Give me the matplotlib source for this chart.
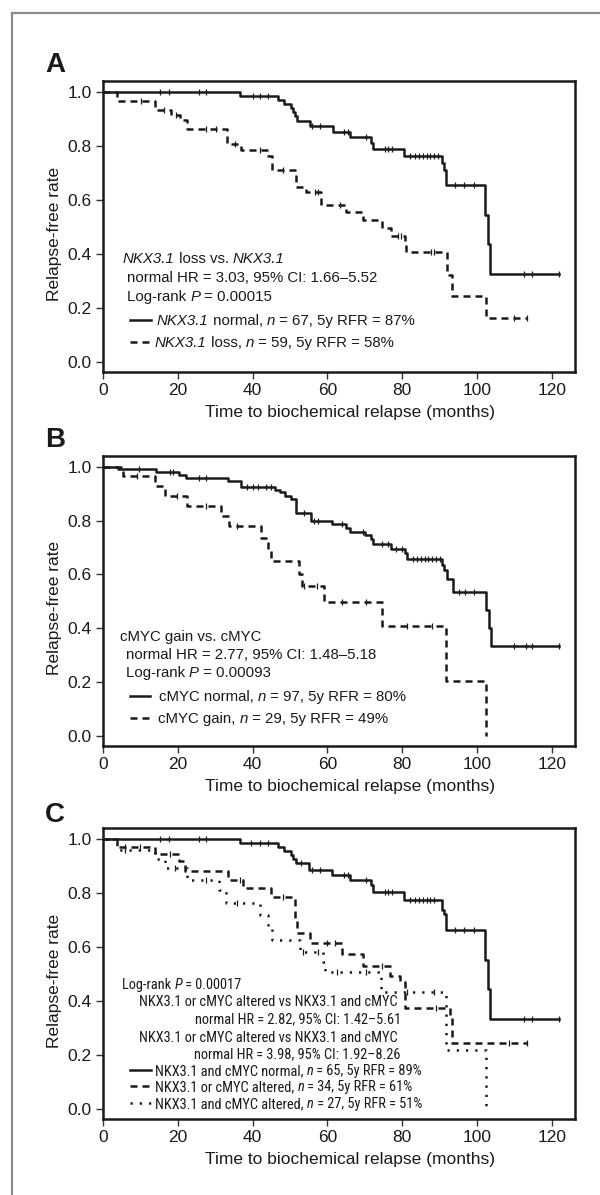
import numpy as np
import matplotlib
matplotlib.use('Agg')
import matplotlib.pyplot as plt
from matplotlib.lines import Line2D
from matplotlib import font_manager as fm

plt.rcParams['font.family'] = ['Liberation Sans', 'DejaVu Sans']

# ---------------- data ----------------
x_ticks = [0, 20, 40, 60, 80, 100, 120]
y_ticks = [0.0, 0.2, 0.4, 0.6, 0.8, 1.0]
x_label = 'Time to biochemical relapse (months)'
y_label = 'Relapse-free rate'

# Panel A: NKX3.1 normal
a_norm_t = [36.6, 46.9, 48.3, 50.2, 50.8, 51.3, 52.0, 55.3, 61.4, 66.0, 71.7, 72.2,
            80.4, 90.6, 91.1, 91.8, 102.2, 102.9, 103.4]
a_norm_s = [0.985, 0.97, 0.955, 0.94, 0.925, 0.91, 0.893, 0.875, 0.852, 0.833, 0.81, 0.788,
            0.763, 0.735, 0.71, 0.655, 0.545, 0.435, 0.325]
a_norm_c = [15.2, 17.7, 25.6, 27.6, 40.0, 42.0, 44.0, 56.0, 58.0, 64.5, 65.5, 70.4,
            75.3, 76.3, 77.3, 82.0, 83.5, 84.5, 85.5, 86.5, 87.5, 88.5, 89.5,
            94.0, 96.4, 99.3, 112.6, 114.7, 121.8]
a_norm_end = 121.8
# Panel A: NKX3.1 loss
a_loss_t = [3.7, 13.8, 18.1, 20.5, 22.5, 33.1, 37.0, 44.0, 45.3, 51.5, 54.3, 58.4,
            65.0, 69.4, 74.5, 77.0, 80.7, 81.1, 92.0, 93.2, 102.4]
a_loss_s = [0.966, 0.933, 0.914, 0.897, 0.861, 0.805, 0.784, 0.764, 0.709, 0.647, 0.627, 0.581,
            0.554, 0.525, 0.495, 0.465, 0.43, 0.407, 0.32, 0.243, 0.163]
a_loss_c = [10.2, 16.4, 19.5, 27.6, 30.2, 35.3, 42.0, 48.1, 56.8, 57.6, 63.5, 78.8,
            79.6, 87.8, 88.5, 110.0, 113.4]
a_loss_end = 113.4

# Panel B: cMYC normal
b_norm_t = [4.1, 14.3, 20.2, 22.2, 33.3, 37.0, 46.1, 47.3, 48.6, 50.2, 51.5, 55.5,
            61.2, 65.0, 66.0, 70.1, 71.7, 72.2, 77.0, 80.7, 81.4, 90.6, 91.3, 92.1,
            93.7, 102.4, 103.2, 103.7]
b_norm_s = [0.99, 0.98, 0.969, 0.958, 0.948, 0.926, 0.915, 0.905, 0.893, 0.882, 0.829, 0.8,
            0.786, 0.771, 0.758, 0.745, 0.73, 0.713, 0.696, 0.68, 0.657, 0.635, 0.615, 0.581,
            0.535, 0.467, 0.401, 0.333]
b_norm_c = [9.7, 17.9, 18.6, 25.6, 27.6, 38.4, 40.0, 41.4, 43.5, 45.0, 53.8, 56.3, 57.6,
            64.0, 69.6, 74.7, 76.3, 78.3, 79.9, 83.0, 84.0, 85.0, 86.0, 87.0, 88.0, 89.0,
            90.0, 95.2, 96.8, 99.3, 110.0, 113.1, 114.7, 121.8]
b_norm_end = 121.8
# Panel B: cMYC gain
b_gain_t = [5.4, 13.8, 16.7, 22.5, 31.5, 33.6, 42.2, 44.0, 45.0, 52.4, 53.2, 59.0,
            74.5, 91.8, 102.4]
b_gain_s = [0.965, 0.929, 0.892, 0.855, 0.817, 0.779, 0.736, 0.69, 0.648, 0.6, 0.556, 0.496,
            0.409, 0.205, 0.0]
b_gain_c = [9.2, 19.7, 27.6, 35.8, 53.8, 57.3, 64.0, 70.4, 81.4, 88.0]
b_gain_end = 102.4

# Panel C: NKX3.1 and cMYC normal
c_norm_t = [36.6, 46.9, 48.3, 50.2, 50.8, 51.7, 55.1, 61.2, 66.0, 71.7, 72.2, 80.4,
            90.6, 91.1, 91.8, 102.2, 102.9, 103.4]
c_norm_s = [0.985, 0.97, 0.955, 0.94, 0.925, 0.91, 0.886, 0.867, 0.849, 0.83, 0.803, 0.774,
            0.737, 0.72, 0.663, 0.551, 0.442, 0.333]
c_norm_c = [15.2, 17.7, 25.6, 27.6, 39.7, 42.0, 44.0, 53.0, 56.0, 58.0, 64.5, 65.5, 70.4,
            75.3, 76.3, 77.3, 82.0, 83.5, 84.5, 85.5, 86.5, 87.5, 88.5, 94.0, 96.4, 99.3,
            112.6, 114.7, 121.8]
c_norm_end = 121.8
# Panel C: NKX3.1 or cMYC altered
c_one_t = [3.7, 13.8, 20.2, 22.0, 33.3, 37.4, 45.0, 51.4, 52.0, 55.3, 64.0, 69.6,
           76.8, 79.3, 80.7, 92.7, 93.2]
c_one_s = [0.969, 0.942, 0.917, 0.882, 0.849, 0.818, 0.784, 0.7, 0.65, 0.613, 0.574, 0.527,
           0.49, 0.468, 0.372, 0.34, 0.245]
c_one_c = [6.0, 10.0, 18.0, 36.7, 48.1, 60.0, 62.0, 74.7, 89.0, 108.5, 113.4]
c_one_end = 113.4
# Panel C: NKX3.1 and cMYC altered
c_both_t = [3.7, 13.8, 16.6, 22.5, 30.9, 32.8, 42.0, 44.0, 45.3, 52.7, 58.7, 59.4,
            74.2, 91.8, 102.4]
c_both_s = [0.96, 0.926, 0.893, 0.846, 0.812, 0.764, 0.719, 0.675, 0.626, 0.58, 0.545, 0.508,
            0.431, 0.219, 0.0]
c_both_c = [6.0, 19.3, 27.6, 35.8, 53.5, 57.5, 62.5, 70.4, 81.4, 88.5]
c_both_end = 102.4

# ---------------- layout ----------------
W, H = 600, 1195
fig = plt.figure(figsize=(W / 100, H / 100), dpi=100)
renderer = fig.canvas.get_renderer()
INK = '#1a1a1a'

AB_FAMILY, AB_SIZE = ['Liberation Sans', 'DejaVu Sans'], 10.8
AX_SIZE = 12.5
C_FAMILY = ['Liberation Sans', 'DejaVu Sans']
for cand in ['Roboto Condensed', 'Archivo Narrow', 'PT Sans Narrow']:
    try:
        fm.findfont(fm.FontProperties(family=cand), fallback_to_default=False)
        C_FAMILY = [cand, 'Liberation Sans', 'DejaVu Sans']
        break
    except Exception:
        pass


def fx(x):
    return x / W


def fy(y):
    return 1 - y / H


def make_axes(top, bottom, left=103, right=575):
    return fig.add_axes([fx(left), fy(bottom), (right - left) / W, (bottom - top) / H])


LW = 1.8
SOLID = dict(ls='-')
DASH = dict(ls=(0, (2.8, 2.0)))
DOT = dict(ls=(0, (0.9, 2.8)))


def km(ax, t, s, c, end, style):
    tt = np.concatenate([[0.0], t, [end]])
    ss = np.concatenate([[1.0], s, [s[-1]]])
    ax.step(tt, ss, where='post', color=INK, lw=LW, **style)
    c = np.asarray(c)
    idx = np.searchsorted(tt, c, side='right') - 1
    ax.plot(c, ss[idx], ls='none', marker='|', ms=5, mew=0.9, color=INK)


def style_axes(ax):
    ax.set_xlim(0, 126.2)
    ax.set_ylim(-0.038, 1.04)
    ax.set_xticks(x_ticks)
    ax.set_yticks(y_ticks)
    ax.set_yticklabels([f'{v:.1f}' for v in y_ticks])
    ax.tick_params(length=5, width=1.0, pad=3, labelsize=AX_SIZE, color='#333333',
                   labelcolor=INK)
    for sp in ax.spines.values():
        sp.set_linewidth(1.8)
        sp.set_color(INK)
    ax.set_xlabel(x_label, fontsize=AX_SIZE, color=INK)
    ax.set_ylabel(y_label, fontsize=AX_SIZE, color=INK)
    ax.xaxis.set_label_coords(0.523, -0.113)
    ax.yaxis.set_label_coords(-0.087, 0.475)


def measure(s, size, family, italic):
    st = 'italic' if italic else 'normal'
    t = fig.text(0, 0, '|' + s + '|', fontsize=size, family=family, fontstyle=st)
    w1 = t.get_window_extent(renderer).width
    t.set_text('||')
    w2 = t.get_window_extent(renderer).width
    t.remove()
    return w1 - w2


# size panel-C text so that its long line matches the reference width (~259 px)
C_SIZE = 10.0 * 259.0 / measure('NKX3.1 or cMYC altered vs NKX3.1 and cMYC', 10.0,
                                 C_FAMILY, False)


def rich(x, y, parts, size, family, ha='left'):
    """parts: list of (string, italic). y = visual centre line in px."""
    widths = [measure(s, size, family, it) for s, it in parts]
    total = sum(widths)
    x0 = x if ha == 'left' else x - total
    base = y + 0.36 * size * 100 / 72
    for (s, it), w in zip(parts, widths):
        fig.text(fx(x0), fy(base), s, fontsize=size, family=family,
                 fontstyle='italic' if it else 'normal', ha='left', va='baseline',
                 color=INK)
        x0 += w


def handle(x0, x1, y, style):
    fig.add_artist(Line2D([fx(x0), fx(x1)], [fy(y), fy(y)], color=INK, lw=LW, **style))


# frame
fig.add_artist(Line2D([fx(12), fx(12)], [fy(13), 0], color='#8c8c8c', lw=1.6))
fig.add_artist(Line2D([fx(12), 1], [fy(13), fy(13)], color='#8c8c8c', lw=1.6))

# ---- Panel A ----
axA = make_axes(81, 372)
km(axA, a_norm_t, a_norm_s, a_norm_c, a_norm_end, SOLID)
km(axA, a_loss_t, a_loss_s, a_loss_c, a_loss_end, DASH)
style_axes(axA)
fig.text(fx(45), fy(72), 'A', fontsize=20, fontweight='bold', color=INK, va='baseline')
rich(123, 258, [('NKX3.1', True), (' loss vs. ', False), ('NKX3.1', True)], AB_SIZE, AB_FAMILY)
rich(127, 277, [('normal HR = 3.03, 95% CI: 1.66–5.52', False)], AB_SIZE, AB_FAMILY)
rich(127, 296, [('Log-rank ', False), ('P', True), (' = 0.00015', False)], AB_SIZE, AB_FAMILY)
handle(130, 151, 320, SOLID)
rich(157, 320, [('NKX3.1', True), (' normal, ', False), ('n', True),
                (' = 67, 5y RFR = 87%', False)], AB_SIZE, AB_FAMILY)
handle(130, 151, 342, DASH)
rich(155, 342, [('NKX3.1', True), (' loss, ', False), ('n', True),
                (' = 59, 5y RFR = 58%', False)], AB_SIZE, AB_FAMILY)

# ---- Panel B ----
axB = make_axes(456, 746)
km(axB, b_norm_t, b_norm_s, b_norm_c, b_norm_end, SOLID)
km(axB, b_gain_t, b_gain_s, b_gain_c, b_gain_end, DASH)
style_axes(axB)
fig.text(fx(45), fy(447), 'B', fontsize=20, fontweight='bold', color=INK, va='baseline')
rich(120.5, 636, [('cMYC gain vs. cMYC', False)], AB_SIZE, AB_FAMILY)
rich(125.5, 654, [('normal HR = 2.77, 95% CI: 1.48–5.18', False)], AB_SIZE, AB_FAMILY)
rich(125.5, 672, [('Log-rank ', False), ('P', True), (' = 0.00093', False)], AB_SIZE, AB_FAMILY)
handle(130, 150, 696, SOLID)
rich(159, 696, [('cMYC normal, ', False), ('n', True), (' = 97, 5y RFR = 80%', False)],
     AB_SIZE, AB_FAMILY)
handle(130, 150, 718, DASH)
rich(158, 718, [('cMYC gain, ', False), ('n', True), (' = 29, 5y RFR = 49%', False)],
     AB_SIZE, AB_FAMILY)

# ---- Panel C ----
axC = make_axes(828, 1119)
km(axC, c_norm_t, c_norm_s, c_norm_c, c_norm_end, SOLID)
km(axC, c_one_t, c_one_s, c_one_c, c_one_end, DASH)
km(axC, c_both_t, c_both_s, c_both_c, c_both_end, DOT)
style_axes(axC)
fig.text(fx(45), fy(822), 'C', fontsize=20, fontweight='bold', color=INK, va='baseline')
rich(122, 984, [('Log-rank ', False), ('P', True), (' = 0.00017', False)], C_SIZE, C_FAMILY)
rich(398, 1001, [('NKX3.1 or cMYC altered vs NKX3.1 and cMYC', False)], C_SIZE, C_FAMILY,
     ha='right')
rich(401, 1018, [('normal HR = 2.82, 95% CI: 1.42–5.61', False)], C_SIZE, C_FAMILY, ha='right')
rich(398, 1037, [('NKX3.1 or cMYC altered vs NKX3.1 and cMYC', False)], C_SIZE, C_FAMILY,
     ha='right')
rich(401, 1053, [('normal HR = 3.98, 95% CI: 1.92–8.26', False)], C_SIZE, C_FAMILY, ha='right')
handle(130, 151, 1070, SOLID)
rich(155, 1070, [('NKX3.1 and cMYC normal, ', False), ('n', True),
                 (' = 65, 5y RFR = 89%', False)], C_SIZE, C_FAMILY)
handle(130, 151, 1086, DASH)
rich(155, 1086, [('NKX3.1 or cMYC altered, ', False), ('n', True),
                 (' = 34, 5y RFR = 61%', False)], C_SIZE, C_FAMILY)
handle(130, 151, 1103, DOT)
rich(155, 1103, [('NKX3.1 and cMYC altered, ', False), ('n', True),
                 (' = 27, 5y RFR = 51%', False)], C_SIZE, C_FAMILY)

fig.savefig('out.png', dpi=100)
